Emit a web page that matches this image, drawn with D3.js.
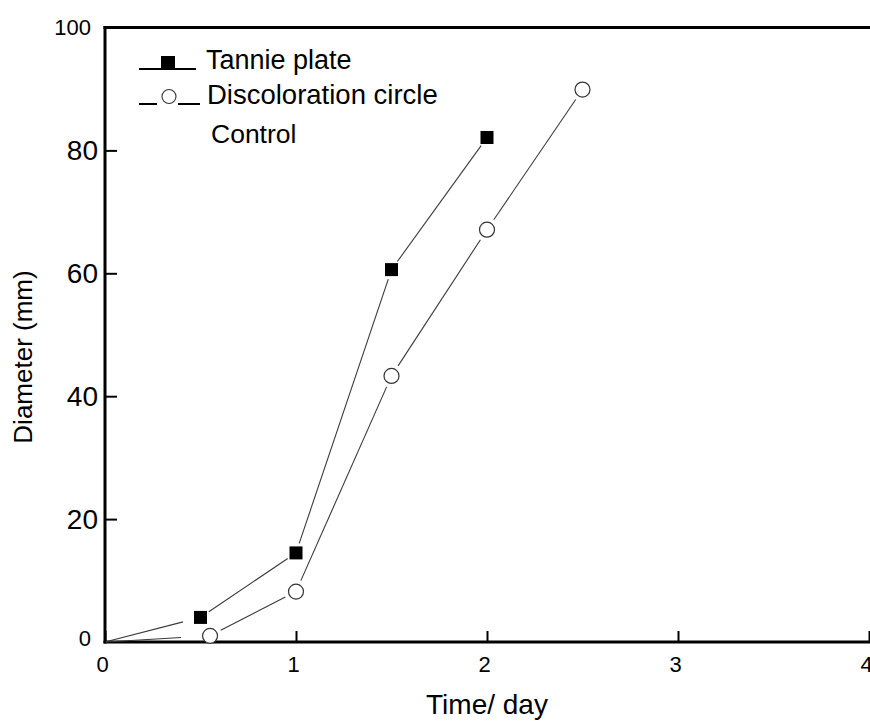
<!DOCTYPE html>
<html>
<head>
<meta charset="utf-8">
<script src="https://cdn.jsdelivr.net/npm/d3@7/dist/d3.min.js"></script>
<style>
  html, body { margin: 0; padding: 0; background: #fff; }
  svg { display: block; font-family: "Liberation Sans", Arial, sans-serif; }
</style>
</head>
<body>
<svg id="chart" width="870" height="722"></svg>
<script>
// ---- data ----
const xTicks = [0, 1, 2, 3, 4];
const yTicks = [0, 20, 40, 60, 80, 100];
const seriesNames = ["Tannie plate", "Discoloration circle", "Control"];
const tannieX = [0, 0.5, 1.0, 1.5, 2.0];
const tannieY = [0, 4.0, 14.5, 60.6, 82.1];
const discX = [0, 0.55, 1.0, 1.5, 2.0, 2.5];
const discY = [0, 1.0, 8.2, 43.3, 67.1, 89.9];
const xTitle = "Time/ day";
const yTitle = "Diameter (mm)";

// ---- layout ----
const svg = d3.select("#chart");
const x = d3.scaleLinear().domain([0, 4]).range([105, 869]);
const y = d3.scaleLinear().domain([0, 100]).range([642, 27.5]);
const FONT = "'Liberation Sans', Arial, sans-serif";

// frame: left, bottom, top
const axisColor = "#000";
svg.append("line").attr("x1", x(0)).attr("x2", x(0)).attr("y1", y(100) - 1.5).attr("y2", y(0) + 1.5)
  .attr("stroke", axisColor).attr("stroke-width", 3);
svg.append("line").attr("x1", x(0) - 1.5).attr("x2", 880).attr("y1", y(0)).attr("y2", y(0))
  .attr("stroke", axisColor).attr("stroke-width", 3);
svg.append("line").attr("x1", x(0) - 1.5).attr("x2", 880).attr("y1", y(100)).attr("y2", y(100))
  .attr("stroke", axisColor).attr("stroke-width", 3);

// x axis ticks (inward) via d3 axis
const xAxis = d3.axisBottom(x).tickValues(xTicks).tickSize(-11).tickPadding(0).tickFormat(d3.format("d"));
const gx = svg.append("g").attr("transform", `translate(0,${y(0)})`).call(xAxis);
gx.select(".domain").remove();
gx.selectAll(".tick line").attr("stroke", "#000").attr("stroke-width", 2);
gx.selectAll(".tick text").attr("fill", "#000").attr("font-size", 22)
  .attr("dy", null).attr("y", 30).attr("x", -3).attr("text-anchor", "middle")
  .style("font-family", FONT);

// y axis ticks (inward)
const yAxis = d3.axisLeft(y).tickValues(yTicks).tickSize(-12).tickPadding(0).tickFormat(d3.format("d"));
const gy = svg.append("g").attr("transform", `translate(${x(0)},0)`).call(yAxis);
gy.select(".domain").remove();
gy.selectAll(".tick line").attr("stroke", "#000").attr("stroke-width", 2)
  .attr("display", d => (d === 0 || d === 100) ? "none" : null);
gy.selectAll(".tick text").attr("fill", "#000")
  .attr("font-size", d => (d === 0 || d === 100) ? 22 : 28)
  .attr("x", d => (d === 0 || d === 100) ? -14 : -7)
  .attr("dy", d => (d === 0 ? "0.15em" : (d === 100 ? "0.3em" : "0.32em")))
  .attr("text-anchor", "end")
  .style("font-family", FONT);

// axis titles
svg.append("text").attr("x", x(2)).attr("y", 714).attr("text-anchor", "middle")
  .attr("font-size", 28).attr("fill", "#000").text(xTitle);
svg.append("text").attr("transform", `translate(32,357) rotate(-90)`).attr("text-anchor", "middle")
  .attr("font-size", 26).attr("fill", "#000").text(yTitle);

// ---- series lines with gaps near markers ----
const lineColor = "#3a3a3a";
function drawGappedLine(xs, ys, gapAt) {
  for (let i = 0; i < xs.length - 1; i++) {
    const x1 = x(xs[i]), y1 = y(ys[i]), x2 = x(xs[i + 1]), y2 = y(ys[i + 1]);
    const dx = x2 - x1, dy = y2 - y1, len = Math.hypot(dx, dy);
    const g1 = gapAt(i, 0), g2 = gapAt(i, 1);
    if (len <= g1 + g2) continue;
    const ux = dx / len, uy = dy / len;
    svg.append("line")
      .attr("x1", x1 + ux * g1).attr("y1", y1 + uy * g1)
      .attr("x2", x2 - ux * g2).attr("y2", y2 - uy * g2)
      .attr("stroke", lineColor).attr("stroke-width", 1.1);
  }
}
drawGappedLine(tannieX, tannieY, (i, end) => i === 0 ? (end === 0 ? 1 : 18) : 10);
drawGappedLine(discX, discY, (i, end) => i === 0 ? (end === 0 ? 1 : 29) : 12);

// markers (skip the origin point)
const sq = 13;
svg.append("g").selectAll("rect").data(tannieX.map((d, i) => [d, tannieY[i]]).slice(1)).join("rect")
  .attr("x", d => x(d[0]) - sq / 2).attr("y", d => y(d[1]) - sq / 2)
  .attr("width", sq).attr("height", sq).attr("fill", "#000");
svg.append("g").selectAll("circle").data(discX.map((d, i) => [d, discY[i]]).slice(1)).join("circle")
  .attr("cx", d => x(d[0])).attr("cy", d => y(d[1])).attr("r", 7.5)
  .attr("fill", "#fff").attr("stroke", "#333").attr("stroke-width", 1.2);

// ---- legend ----
const leg = svg.append("g");
// Tannie plate
leg.append("line").attr("x1", 139).attr("x2", 196).attr("y1", 69).attr("y2", 69)
  .attr("stroke", "#000").attr("stroke-width", 2);
leg.append("rect").attr("x", 161).attr("y", 56).attr("width", 14).attr("height", 13).attr("fill", "#000");
leg.append("text").attr("x", 206).attr("y", 69).attr("font-size", 27).attr("fill", "#000").text(seriesNames[0]);
// Discoloration circle
leg.append("line").attr("x1", 139).attr("x2", 157).attr("y1", 104).attr("y2", 104)
  .attr("stroke", "#000").attr("stroke-width", 2);
leg.append("line").attr("x1", 178).attr("x2", 200).attr("y1", 104).attr("y2", 104)
  .attr("stroke", "#000").attr("stroke-width", 2);
leg.append("circle").attr("cx", 169).attr("cy", 96.5).attr("r", 7)
  .attr("fill", "#fff").attr("stroke", "#333").attr("stroke-width", 1.1);
leg.append("text").attr("x", 207).attr("y", 104).attr("font-size", 27.5).attr("fill", "#000").text(seriesNames[1]);
// Control
leg.append("text").attr("x", 211).attr("y", 143).attr("font-size", 26.5).attr("fill", "#000").text(seriesNames[2]);
</script>
</body>
</html>
